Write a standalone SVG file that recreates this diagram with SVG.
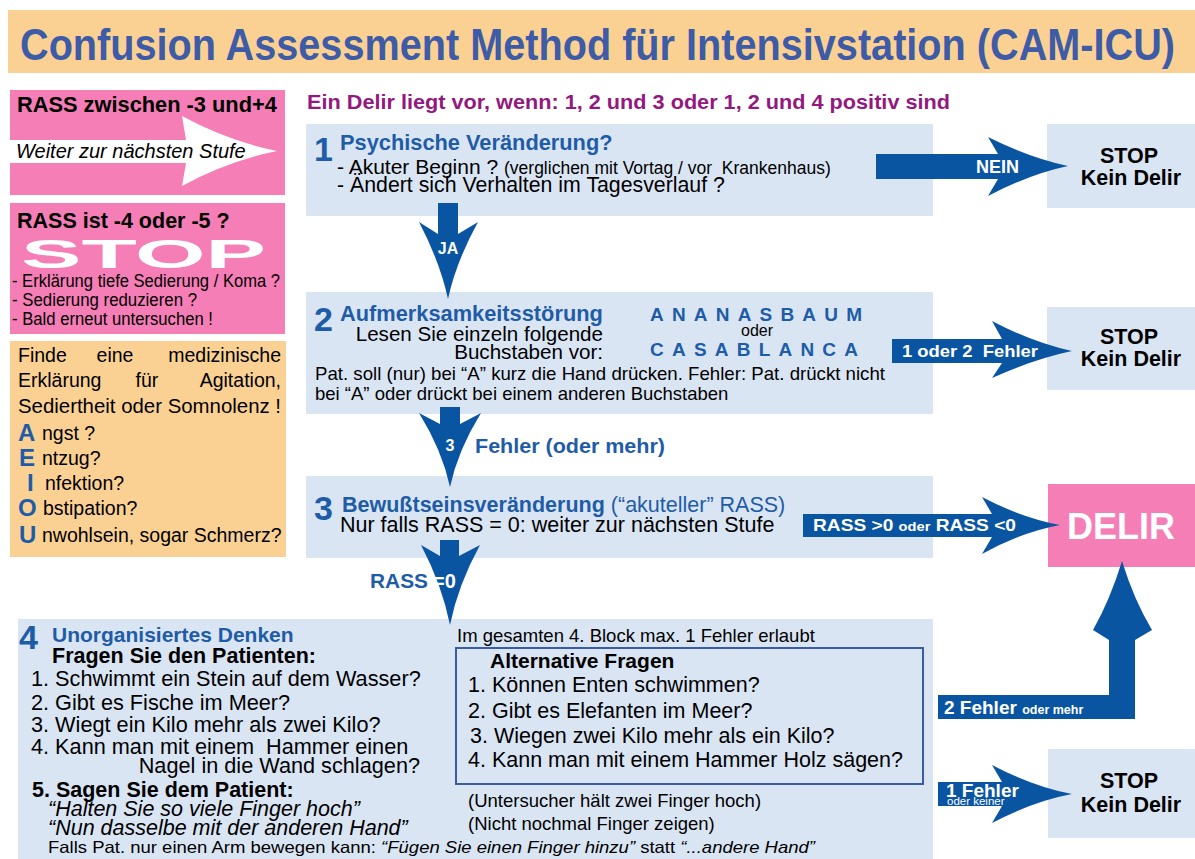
<svg xmlns="http://www.w3.org/2000/svg" width="1195" height="859" viewBox="0 0 1195 859">
<style>
text{font-family:"Liberation Sans",Arial,Helvetica,sans-serif;fill:#000}
.b{font-weight:bold}
.i{font-style:italic}
.blue{fill:#1F5CA7}
.w{fill:#fff}
.blk{fill:#DAE5F4}
.pink{fill:#F57EB6}
.orange{fill:#FBD193}
.arr{fill:#0A55A2}
.num{font-size:34px;font-weight:bold;fill:#1F5CA7}
.stop{font-size:21.5px;font-weight:bold;text-anchor:middle}
</style>
<rect width="1195" height="859" fill="#fff"/>

<g id="title">
<rect x="8" y="10" width="1187" height="63" class="orange"/>
<text x="20" y="60" class="b" style="font-size:45px;fill:#3D5BA7" textLength="1155" lengthAdjust="spacingAndGlyphs">Confusion Assessment Method für Intensivstation (CAM-ICU)</text>
</g>

<g id="rass-ok">
<rect x="10" y="90" width="275" height="105" class="pink"/>
<text x="17" y="112" class="b" style="font-size:21.8px">RASS zwischen -3 und+4</text>
<path d="M10,140 H186 L182,116 Q228,141 277,151 Q228,161 182,186 L186,163 H10 Z" fill="#fff"/>
<text x="16" y="158" class="i" style="font-size:20px">Weiter zur nächsten Stufe</text>
</g>

<g id="rass-stop">
<rect x="10" y="203" width="275" height="131" class="pink"/>
<text x="17" y="228" class="b" style="font-size:21.5px">RASS ist -4 oder -5 ?</text>
<text x="21" y="268" class="b w" style="font-size:40px" textLength="245" lengthAdjust="spacingAndGlyphs">STOP</text>
<text x="12" y="287" style="font-size:17.5px" textLength="268" lengthAdjust="spacingAndGlyphs">- Erklärung tiefe Sedierung / Koma ?</text>
<text x="12" y="306" style="font-size:17.5px" textLength="185" lengthAdjust="spacingAndGlyphs">- Sedierung reduzieren ?</text>
<text x="12" y="325" style="font-size:17.5px" textLength="201" lengthAdjust="spacingAndGlyphs">- Bald erneut untersuchen !</text>
</g>

<g id="aeiou">
<rect x="10" y="341" width="276" height="216" class="orange"/>
<g style="font-size:19.5px">
<text x="18" y="362">Finde</text>
<text x="115" y="362" text-anchor="middle">eine</text>
<text x="281" y="362" text-anchor="end">medizinische</text>
<text x="18" y="387">Erklärung</text>
<text x="147" y="387" text-anchor="middle">für</text>
<text x="281" y="387" text-anchor="end">Agitation,</text>
<text x="18" y="413" textLength="263" lengthAdjust="spacingAndGlyphs">Sediertheit oder Somnolenz !</text>
<text x="42" y="440">ngst ?</text>
<text x="42" y="465">ntzug?</text>
<text x="45" y="490">nfektion?</text>
<text x="43" y="515">bstipation?</text>
<text x="42" y="542">nwohlsein, sogar Schmerz?</text>
</g>
<g style="font-size:24px">
<text x="18" y="441" class="b blue">A</text>
<text x="19" y="466" class="b blue">E</text>
<text x="27" y="491" class="b blue">I</text>
<text x="18" y="516" class="b blue">O</text>
<text x="19" y="543" class="b blue">U</text>
</g>
</g>

<g id="header">
<text x="307" y="109" class="b" style="font-size:20px;fill:#93197F" textLength="643" lengthAdjust="spacingAndGlyphs">Ein Delir liegt vor, wenn: 1, 2 und 3 oder 1, 2 und 4 positiv sind</text>
</g>

<g id="step1">
<rect x="306" y="124" width="627" height="92" class="blk"/>
<text x="314" y="161" class="num">1</text>
<text x="340" y="150" class="b blue" style="font-size:21.8px">Psychische Veränderung?</text>
<text x="337" y="174" style="font-size:21px">- Akuter Beginn ?</text>
<text x="504" y="174" style="font-size:17.5px" xml:space="preserve">(verglichen mit Vortag / vor  Krankenhaus)</text>
<text x="337" y="192" style="font-size:21.3px">- Ändert sich Verhalten im Tagesverlauf ?</text>
</g>

<g id="step2">
<rect x="306" y="292" width="627" height="122" class="blk"/>
<text x="314" y="331" class="num">2</text>
<text x="340" y="321" class="b blue" style="font-size:21.8px">Aufmerksamkeitsstörung</text>
<text x="603" y="341" text-anchor="end" style="font-size:20.6px">Lesen Sie einzeln folgende</text>
<text x="603" y="359" text-anchor="end" style="font-size:20.6px">Buchstaben vor:</text>
<text x="650" y="321" class="b blue" style="font-size:19px" textLength="212" lengthAdjust="spacing">ANANASBAUM</text>
<text x="757" y="336" text-anchor="middle" style="font-size:16px">oder</text>
<text x="650" y="356" class="b blue" style="font-size:19px" textLength="208" lengthAdjust="spacing">CASABLANCA</text>
<text x="315" y="380" style="font-size:18.5px" textLength="570" lengthAdjust="spacingAndGlyphs">Pat. soll (nur) bei “A” kurz die Hand drücken. Fehler: Pat. drückt nicht</text>
<text x="315" y="400" style="font-size:18.5px">bei “A” oder drückt bei einem anderen Buchstaben</text>
</g>

<g id="step3">
<rect x="306" y="476" width="627" height="82" class="blk"/>
<text x="314" y="520" class="num">3</text>
<text x="342" y="512" class="blue" style="font-size:21.5px"><tspan class="b">Bewußtseinsveränderung</tspan> (“akuteller” RASS)</text>
<text x="340" y="532" style="font-size:21.5px">Nur falls RASS = 0: weiter zur nächsten Stufe</text>
</g>

<g id="step4">
<rect x="18" y="619" width="915" height="240" class="blk"/>
<text x="19" y="649" class="num">4</text>
<text x="52" y="642" class="b blue" style="font-size:21px">Unorganisiertes Denken</text>
<text x="52" y="663" class="b" style="font-size:21.5px">Fragen Sie den Patienten:</text>
<g style="font-size:21.7px">
<text x="31" y="686">1. Schwimmt ein Stein auf dem Wasser?</text>
<text x="31" y="710">2. Gibt es Fische im Meer?</text>
<text x="31" y="732">3. Wiegt ein Kilo mehr als zwei Kilo?</text>
<text x="31" y="754" xml:space="preserve">4. Kann man mit einem  Hammer einen</text>
<text x="420" y="773" text-anchor="end">Nagel in die Wand schlagen?</text>
</g>
<text x="32" y="797" class="b" style="font-size:21.5px">5. Sagen Sie dem Patient:</text>
<text x="48" y="816" class="i" style="font-size:21.5px">“Halten Sie so viele Finger hoch”</text>
<text x="48" y="835" class="i" style="font-size:21.5px">“Nun dasselbe mit der anderen Hand”</text>
<text x="48" y="853" style="font-size:16.5px" textLength="767" lengthAdjust="spacingAndGlyphs">Falls Pat. nur einen Arm bewegen kann: <tspan class="i">“Fügen Sie einen Finger hinzu”</tspan> statt <tspan class="i">“...andere Hand”</tspan></text>
<text x="457" y="642" style="font-size:18.5px">Im gesamten 4. Block max. 1 Fehler erlaubt</text>
<rect x="456" y="648" width="467" height="136" fill="none" stroke="#3B5BA5" stroke-width="2"/>
<text x="490" y="668" class="b" style="font-size:21px">Alternative Fragen</text>
<g style="font-size:21.5px">
<text x="468" y="692">1. Können Enten schwimmen?</text>
<text x="468" y="718">2. Gibt es Elefanten im Meer?</text>
<text x="470" y="743">3. Wiegen zwei Kilo mehr als ein Kilo?</text>
<text x="468" y="767">4. Kann man mit einem Hammer Holz sägen?</text>
</g>
<text x="468" y="807" style="font-size:18.5px">(Untersucher hält zwei Finger hoch)</text>
<text x="468" y="830" style="font-size:18.5px">(Nicht nochmal Finger zeigen)</text>
</g>

<g id="stop1">
<rect x="1047" y="124" width="148" height="84" class="blk"/>
<text x="1129" y="163" class="stop">STOP</text>
<text x="1131" y="185" class="stop">Kein Delir</text>
</g>
<g id="stop2">
<rect x="1047" y="307" width="148" height="83" class="blk"/>
<text x="1129" y="344" class="stop">STOP</text>
<text x="1131" y="366" class="stop">Kein Delir</text>
</g>
<g id="stop3">
<rect x="1048" y="749" width="147" height="89" class="blk"/>
<text x="1129" y="788" class="stop">STOP</text>
<text x="1131" y="812" class="stop">Kein Delir</text>
</g>
<g id="delir">
<rect x="1048" y="484" width="147" height="83" class="pink"/>
<text x="1121" y="539" text-anchor="middle" class="b w" style="font-size:36px">DELIR</text>
</g>

<g id="connectors">
<path class="arr" d="M876,154 H998 L988,137 Q1030,158 1068,166 Q1030,174 988,196 L998,179 H876 Z"/>
<text x="976" y="173" class="b w" style="font-size:18px">NEIN</text>

<path class="arr" d="M438,203 H458 V234 L478,222 Q456,262 448,299 Q440,262 419,222 L438,234 Z"/>
<text x="448" y="254" text-anchor="middle" class="b w" style="font-size:16px">JA</text>

<path class="arr" d="M892,339 H1002 L992,321 Q1034,343 1072,351 Q1034,359 992,378 L1002,363 H892 Z"/>
<text x="902" y="357" class="b w" style="font-size:16.5px" textLength="136" lengthAdjust="spacingAndGlyphs" xml:space="preserve">1 oder 2  Fehler</text>

<path class="arr" d="M440,407 H460 V424 L481,413 Q458,450 450,487 Q442,450 419,413 L440,424 Z"/>
<text x="450" y="451" text-anchor="middle" class="b w" style="font-size:16px">3</text>
<text x="475" y="453" class="b blue" style="font-size:21px" textLength="190" lengthAdjust="spacingAndGlyphs">Fehler (oder mehr)</text>

<path class="arr" d="M803,514 H992 L982,497 Q1022,518 1060,525 Q1022,532 982,554 L992,537 H803 Z"/>
<text x="813" y="531" class="b w" style="font-size:17px" textLength="203" lengthAdjust="spacingAndGlyphs">RASS &gt;0 <tspan style="font-size:13px">oder</tspan> RASS <tspan>&lt;0</tspan></text>

<path class="arr" d="M440,540 H459 V556 L480,545 Q458,585 450,625 Q442,585 421,545 L440,556 Z"/>
<text x="370" y="588" class="b blue" style="font-size:20px" textLength="58" lengthAdjust="spacingAndGlyphs">RASS</text>
<text x="433" y="588" class="b w" style="font-size:20px">=0</text>

<path class="arr" d="M938,695 H1109 V640 L1093,630 Q1110,600 1122,561 Q1134,600 1152,630 L1135,640 V719 H938 Z"/>
<text x="944" y="714" class="b w" style="font-size:19px">2 Fehler <tspan style="font-size:12.5px">oder mehr</tspan></text>

<path class="arr" d="M938,782 H1002 L992,765 Q1034,787 1072,794 Q1034,801 992,823 L1002,806 H938 Z"/>
<text x="946" y="797" class="b w" style="font-size:19px">1 Fehler</text>
<text x="947" y="805" class="w" style="font-size:11.5px">oder keiner</text>
</g>
</svg>
